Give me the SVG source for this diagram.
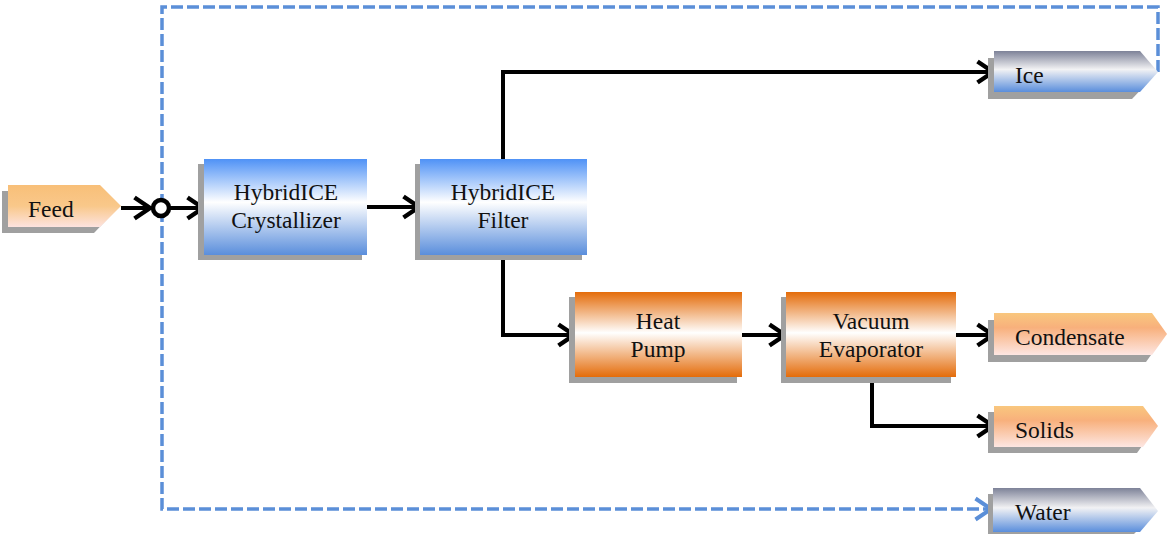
<svg xmlns="http://www.w3.org/2000/svg" width="1167" height="534" viewBox="0 0 1167 534">
<style>
text{font-family:"Liberation Serif","Times New Roman",serif;font-size:23.5px;fill:#111}
.c{text-anchor:middle}
.sh{fill:#a0a0a0}
.ln{fill:none;stroke:#000;stroke-width:4;stroke-linejoin:miter}
.dl{fill:none;stroke:#5b8fd8;stroke-width:3.5;stroke-dasharray:12 4}
</style>
<defs>
<linearGradient id="gBlue" x1="0" y1="0" x2="0" y2="1">
<stop offset="0" stop-color="#4f92f6"/><stop offset="0.45" stop-color="#ffffff"/><stop offset="1" stop-color="#5a8edc"/>
</linearGradient>
<linearGradient id="gOr" x1="0" y1="0" x2="0" y2="1">
<stop offset="0" stop-color="#e46c0a"/><stop offset="0.48" stop-color="#ffffff"/><stop offset="1" stop-color="#e46c0a"/>
</linearGradient>
<linearGradient id="gOut" x1="0" y1="0" x2="0" y2="1">
<stop offset="0" stop-color="#7d8298"/><stop offset="0.45" stop-color="#f2f2f4"/><stop offset="1" stop-color="#5a8edc"/>
</linearGradient>
<linearGradient id="gPeach" x1="0" y1="0" x2="0" y2="1">
<stop offset="0" stop-color="#f9c77e"/><stop offset="0.35" stop-color="#f8b07c"/><stop offset="1" stop-color="#fde6e2"/>
</linearGradient>
<linearGradient id="gFeed" x1="0" y1="0" x2="0" y2="1">
<stop offset="0" stop-color="#f8bf78"/><stop offset="0.5" stop-color="#f9c88a"/><stop offset="1" stop-color="#fde3df"/>
</linearGradient>
<marker id="ah" viewBox="0 0 22 26" refX="19" refY="13" markerWidth="22" markerHeight="26" markerUnits="userSpaceOnUse" orient="auto">
<path d="M2.5,2.5 L18,13 L2.5,23.5" fill="none" stroke="#000" stroke-width="4.5"/>
</marker>
<marker id="ahb" viewBox="0 0 22 26" refX="19" refY="13" markerWidth="22" markerHeight="26" markerUnits="userSpaceOnUse" orient="auto">
<path d="M2.5,2.5 L18,13 L2.5,23.5" fill="none" stroke="#5b8fd8" stroke-width="4"/>
</marker>
</defs>

<g id="connectors">
<path class="dl" d="M1158,72 V7 H162 V509 H992" marker-end="url(#ahb)"/>
<path class="ln" d="M121,208 H151" marker-end="url(#ah)"/>
<path class="ln" d="M170,208 H204" marker-end="url(#ah)"/>
<path class="ln" d="M367,207 H420" marker-end="url(#ah)"/>
<path class="ln" d="M503,159 V72 H994" marker-end="url(#ah)"/>
<path class="ln" d="M503,255 V335 H575" marker-end="url(#ah)"/>
<path class="ln" d="M742,335 H786" marker-end="url(#ah)"/>
<path class="ln" d="M956,335 H994" marker-end="url(#ah)"/>
<path class="ln" d="M872,377 V426 H994" marker-end="url(#ah)"/>
</g>

<g id="mixer">
<circle cx="161" cy="208" r="8" fill="#fff" stroke="#000" stroke-width="4.5"/>
</g>

<g id="feed">
<path class="sh" d="M2,191 H94 L115,211 L94,233 H2 Z"/>
<path d="M8,185 H100 L121,206 L100,227 H8 Z" fill="url(#gFeed)"/>
<text x="28" y="217">Feed</text>
</g>

<g id="crystallizer">
<rect class="sh" x="198" y="164" width="164" height="96"/>
<rect x="204" y="159" width="163" height="96" fill="url(#gBlue)"/>
<text class="c" x="286" y="200">HybridICE</text>
<text class="c" x="286" y="228">Crystallizer</text>
</g>

<g id="filter">
<rect class="sh" x="415" y="164" width="167" height="96"/>
<rect x="420" y="159" width="167" height="96" fill="url(#gBlue)"/>
<text class="c" x="503" y="200">HybridICE</text>
<text class="c" x="503" y="228">Filter</text>
</g>

<g id="heatpump">
<rect class="sh" x="569" y="297" width="168" height="86"/>
<rect x="575" y="292" width="167" height="85" fill="url(#gOr)"/>
<text class="c" x="658" y="329">Heat</text>
<text class="c" x="658" y="357">Pump</text>
</g>

<g id="evaporator">
<rect class="sh" x="781" y="297" width="170" height="86"/>
<rect x="786" y="292" width="170" height="85" fill="url(#gOr)"/>
<text class="c" x="871" y="329">Vacuum</text>
<text class="c" x="871" y="357">Evaporator</text>
</g>

<g id="ice">
<path class="sh" d="M988,58 H1134 L1152,78 L1132,99 H988 Z"/>
<path d="M994,51 H1140 L1158,72 L1140,92 H994 Z" fill="url(#gOut)"/>
<text x="1015" y="83">Ice</text>
</g>

<g id="condensate">
<path class="sh" d="M988,320 H1146 L1161,341 L1146,362 H988 Z"/>
<path d="M994,313 H1152 L1167,334 L1152,355 H994 Z" fill="url(#gPeach)"/>
<text x="1015" y="345">Condensate</text>
</g>

<g id="solids">
<path class="sh" d="M988,412 H1137 L1152,432 L1137,453 H988 Z"/>
<path d="M994,406 H1143 L1158,426 L1143,447 H994 Z" fill="url(#gPeach)"/>
<text x="1015" y="438">Solids</text>
</g>

<g id="water">
<path class="sh" d="M988,494 H1134 L1152,516 L1134,534 H988 Z"/>
<path d="M993,488 H1140 L1158,511 L1140,532 H993 Z" fill="url(#gOut)"/>
<text x="1015" y="520">Water</text>
</g>
</svg>
